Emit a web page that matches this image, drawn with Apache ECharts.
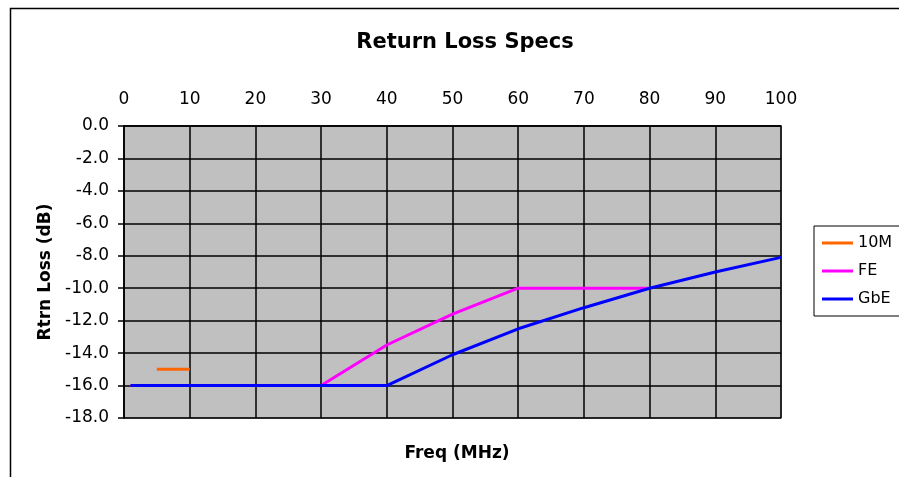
<!DOCTYPE html>
<html>
<head>
<meta charset="utf-8">
<script src="https://cdn.jsdelivr.net/npm/echarts@6/dist/echarts.min.js"></script>
<style>html,body{margin:0;padding:0;background:#fff;}#c{width:899px;height:477px;}</style>
</head>
<body>
<div id="c"></div>
<script>
const xTicks = [0, 10, 20, 30, 40, 50, 60, 70, 80, 90, 100];
const yTicks = [0, -2, -4, -6, -8, -10, -12, -14, -16, -18];

const freq10M = [5, 10];
const rl10M = [-15, -15];

const freqFE = [1, 10, 20, 30, 40, 50, 60, 70, 80];
const rlFE = [-16, -16, -16, -16, -13.5, -11.6, -10, -10, -10];

const freqGbE = [1, 10, 20, 30, 40, 50, 60, 70, 80, 90, 100];
const rlGbE = [-16, -16, -16, -16, -16, -14.1, -12.5, -11.2, -10, -9, -8.1];

const seriesNames = ['10M', 'FE', 'GbE'];
const seriesColors = ['#FF6600', '#FF00FF', '#0000FF'];

function pairs(xs, ys) { return xs.map((x, i) => [x, ys[i]]); }
const seriesData = [pairs(freq10M, rl10M), pairs(freqFE, rlFE), pairs(freqGbE, rlGbE)];

const font = 'DejaVu Sans';
const chart = echarts.init(document.getElementById('c'), null, {renderer: 'canvas'});
chart.setOption({
  animation: false,
  backgroundColor: '#ffffff',
  title: [
    {text: 'Return Loss Specs', left: 460, top: 27, textAlign: 'center',
     textStyle: {fontFamily: font, fontSize: 21, fontWeight: 'bold', color: '#000'}},
    {text: 'Freq (MHz)', left: 452, top: 440, textAlign: 'center',
     textStyle: {fontFamily: font, fontSize: 17, fontWeight: 'bold', color: '#000'}}
  ],
  graphic: [{
    type: 'rect', shape: {x: 10.5, y: 8.5, width: 1000, height: 1000},
    style: {fill: 'none', stroke: '#000', lineWidth: 1.5}, silent: true, z: -1
  }],
  legend: {
    orient: 'vertical', left: 814, top: 226,
    data: seriesNames,
    icon: 'rect',
    itemWidth: 31, itemHeight: 3, itemGap: 10,
    padding: [8, 40, 8, 8],
    borderColor: '#000', borderWidth: 1, backgroundColor: '#fff',
    textStyle: {fontFamily: font, fontSize: 16, color: '#000', lineHeight: 18}
  },
  grid: {
    left: 124, right: 118, top: 126, bottom: 59,
    show: true, backgroundColor: '#C0C0C0', borderColor: '#808080', borderWidth: 1.5
  },
  xAxis: {
    type: 'value', position: 'top', min: 0, max: 100, interval: 10,
    axisLine: {show: true, onZero: false, lineStyle: {color: '#000', width: 1.5}},
    axisTick: {show: false},
    axisLabel: {fontFamily: font, fontSize: 17, color: '#000', margin: 18,
      formatter: v => xTicks.includes(v) ? String(v) : ''},
    splitLine: {show: true, lineStyle: {color: '#000', width: 1.5}}
  },
  yAxis: {
    type: 'value', min: -18, max: 0, interval: 2,
    name: 'Rtrn Loss (dB)', nameLocation: 'middle', nameGap: 70,
    nameTextStyle: {fontFamily: font, fontSize: 17, fontWeight: 'bold', color: '#000'},
    axisLine: {show: true, onZero: false, lineStyle: {color: '#000', width: 1.5}},
    axisTick: {show: true, length: 6, lineStyle: {color: '#000', width: 1.5}},
    axisLabel: {fontFamily: font, fontSize: 17, color: '#000', margin: 15,
      formatter: v => yTicks.includes(v) ? v.toFixed(1) : ''},
    splitLine: {show: true, lineStyle: {color: '#000', width: 1.5}}
  },
  series: seriesNames.map((n, i) => ({
    name: n, type: 'line', data: seriesData[i], symbol: 'none',
    color: seriesColors[i],
    lineStyle: {color: seriesColors[i], width: 3}
  }))
});
</script>
</body>
</html>
